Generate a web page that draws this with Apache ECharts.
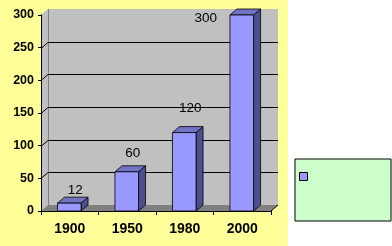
<!DOCTYPE html>
<html><head><meta charset="utf-8">
<script src="https://cdn.jsdelivr.net/npm/echarts@6/dist/echarts.min.js"></script>
<style>html,body{margin:0;padding:0;background:#fff}#c{width:392px;height:246px}</style>
</head><body><div id="c"></div>
<script>
const categories = ['1900', '1950', '1980', '2000'];
const values = [12, 60, 120, 300];
const yMin = 0, yMax = 300, yInterval = 50;
const gridTicks = [50, 100, 150, 200, 250];

const FONT = 'Arial, "Liberation Sans", sans-serif';
const DX = 7, DY = -6;

const chart = echarts.init(document.getElementById('c'), null, {renderer: 'canvas'});

function wallRender(params, api) {
  const cs = params.coordSys;
  const x0 = cs.x, x1 = cs.x + cs.width;
  const yb = api.coord([0, yMin])[1];
  const yt = api.coord([0, yMax])[1];
  const children = [];
  children.push({type: 'polygon', shape: {points: [[x0, yb], [x0, yt], [x0 + DX, yt + DY], [x0 + DX, yb + DY]]},
    style: {fill: '#C0C0C0', stroke: null}});
  children.push({type: 'rect', shape: {x: x0 + DX, y: yt + DY, width: x1 - x0, height: yb - yt},
    style: {fill: '#C0C0C0', stroke: null}});
  children.push({type: 'polygon', shape: {points: [[x0, yb], [x0 + DX, yb + DY], [x1 + DX, yb + DY], [x1, yb]]},
    style: {fill: '#808080', stroke: null}});
  children.push({type: 'line', shape: {x1: x0 + DX + 0.5, y1: yt + DY, x2: x0 + DX + 0.5, y2: yb + DY},
    style: {stroke: '#808080', lineWidth: 1}});
  gridTicks.forEach(v => {
    const y = Math.round(api.coord([0, v])[1]) + 0.5;
    children.push({type: 'polyline', shape: {points: [[x0, y], [x0 + DX, y + DY], [x1 + DX, y + DY]]},
      style: {stroke: '#000', lineWidth: 1, fill: null}});
  });
  children.push({type: 'line', shape: {x1: x1, y1: yb, x2: x1 + DX, y2: yb + DY},
    style: {stroke: '#000', lineWidth: 1}});
  return {type: 'group', children};
}

function barRender(params, api) {
  const cs = params.coordSys;
  const idx = api.value(0);
  const v = api.value(1);
  const top = api.coord([idx, v]);
  const base = api.coord([idx, 0]);
  const w = api.size([1, 0])[0] * 0.41;
  const xl = top[0] - w / 2 - 0.5, xr = xl + w;
  const yt = top[1], yb = base[1];
  const lab = String(v);
  let ly = api.coord([idx, v * 1.163])[1] - 12;
  let lx = xl + w / 2 + 6;
  let align = 'center';
  if (ly < cs.y + 3) { ly = cs.y + 3; lx = xl - 13; align = 'right'; }
  return {type: 'group', children: [
    {type: 'polygon', shape: {points: [[xr, yt], [xr + DX, yt + DY], [xr + DX, yb + DY], [xr, yb]]},
      style: {fill: '#4F4F8F', stroke: '#000', lineWidth: 0.8}},
    {type: 'polygon', shape: {points: [[xl, yt], [xl + DX, yt + DY], [xr + DX, yt + DY], [xr, yt]]},
      style: {fill: '#7373C6', stroke: '#000', lineWidth: 0.8}},
    {type: 'rect', shape: {x: xl, y: yt, width: w, height: yb - yt},
      style: {fill: '#9999FF', stroke: '#000', lineWidth: 0.8}},
    {type: 'text', x: lx, y: ly, style: {text: lab, fill: '#000', font: '13.5px ' + FONT,
      align: align, verticalAlign: 'middle'}}
  ]};
}

chart.setOption({
  backgroundColor: '#FFFFFF',
  animation: false,
  graphic: [{type: 'rect', left: 0, top: 0, z: -100, silent: true,
    shape: {width: 288, height: 246}, style: {fill: '#FFFF99'}}],
  grid: {left: 41, right: 121, top: 15, bottom: 35, containLabel: false},
  legend: {
    left: 295, top: 159, orient: 'vertical',
    padding: [13, 83, 40, 4],
    itemWidth: 8, itemHeight: 8,
    backgroundColor: '#CCFFCC', borderColor: '#000', borderWidth: 1, borderRadius: 0,
    formatter: () => '',
    data: [{name: 'S', icon: 'rect', itemStyle: {color: '#9999FF', borderColor: '#000', borderWidth: 1}}],
    selectedMode: false
  },
  xAxis: {
    type: 'category', data: categories, boundaryGap: true,
    axisLine: {show: true, lineStyle: {color: '#000', width: 1}},
    axisTick: {show: true, length: 4, lineStyle: {color: '#000'}},
    axisLabel: {color: '#000', fontSize: 14, fontWeight: 'bold', fontFamily: FONT, margin: 11},
    splitLine: {show: false}
  },
  yAxis: {
    type: 'value', min: yMin, max: yMax, interval: yInterval,
    axisLine: {show: true, lineStyle: {color: '#000', width: 1}},
    axisTick: {show: true, length: 3, lineStyle: {color: '#000'}},
    axisLabel: {color: '#000', fontSize: 12.5, fontWeight: 'bold', fontFamily: FONT, margin: 7},
    splitLine: {show: false}
  },
  series: [
    {type: 'custom', name: 'wall', z: -5, silent: true, renderItem: wallRender, data: [[0, 0]]},
    {type: 'custom', name: 'S', z: 3, renderItem: barRender, itemStyle: {color: '#9999FF'},
      data: categories.map((c, i) => [i, values[i]])}
  ]
});
</script></body></html>
